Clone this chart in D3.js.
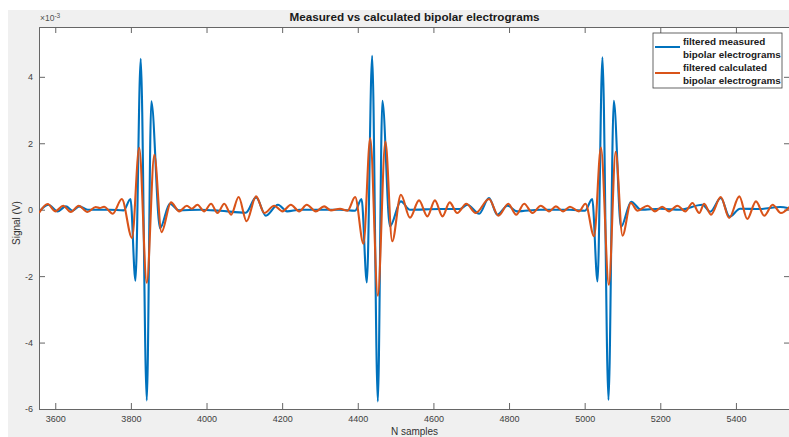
<!DOCTYPE html>
<html>
<head>
<meta charset="utf-8">
<script src="https://cdn.jsdelivr.net/npm/d3@7/dist/d3.min.js"></script>
<style>
  body { margin: 0; background: #ffffff; }
  svg { display: block; }
</style>
</head>
<body>
<svg id="chart" width="789" height="437"></svg>
<script>
// Extrema of the filtered measured bipolar electrogram (sample index, signal in 1e-3 V)
const measuredSamples = [3557, 3582, 3606, 3628, 3646, 3663, 3686, 3744, 3781, 3799, 3812, 3826, 3842, 3854, 3877, 3903, 3927, 3983, 4035, 4104, 4131, 4157, 4189, 4213, 4247, 4300, 4353, 4393, 4410, 4424, 4438, 4453, 4465, 4485, 4514, 4538, 4617, 4670, 4690, 4721, 4747, 4769, 4796, 4821, 4882, 4961, 5001, 5020, 5034, 5047, 5063, 5077, 5096, 5123, 5149, 5200, 5252, 5311, 5332, 5360, 5383, 5411, 5464, 5517, 5543];
const measuredSignal  = [-0.06, 0.15, -0.05, 0.10, -0.03, 0.10, 0, 0, -0.02, 0.32, -2.14, 4.54, -5.74, 3.26, -0.56, 0.18, -0.02, 0, -0.03, -0.09, 0.37, -0.18, 0.15, -0.05, 0, 0, 0, -0.03, 0.32, -2.19, 4.63, -5.77, 3.28, -0.50, 0.25, 0, 0.02, 0.02, 0.15, -0.12, 0.35, -0.15, 0.12, -0.05, 0, 0, -0.03, 0.32, -2.16, 4.59, -5.73, 3.28, -0.52, 0.24, 0, 0.03, 0, 0.15, -0.06, 0.35, -0.21, 0.03, 0.02, 0.08, 0.03];

// Extrema of the filtered calculated bipolar electrogram
const calculatedSamples = [3557, 3580, 3600, 3621, 3641, 3662, 3685, 3707, 3718, 3729, 3752, 3776, 3803, 3822, 3842, 3862, 3881, 3906, 3928, 3948, 3961, 3976, 3994, 4012, 4029, 4047, 4065, 4085, 4106, 4131, 4153, 4179, 4201, 4223, 4245, 4265, 4289, 4311, 4329, 4353, 4373, 4393, 4415, 4433, 4453, 4473, 4491, 4514, 4538, 4562, 4584, 4604, 4624, 4643, 4663, 4687, 4712, 4747, 4772, 4798, 4819, 4840, 4862, 4884, 4906, 4924, 4943, 4961, 4985, 5002, 5025, 5043, 5064, 5082, 5100, 5122, 5140, 5166, 5186, 5205, 5223, 5245, 5266, 5285, 5303, 5316, 5334, 5360, 5382, 5409, 5430, 5453, 5475, 5497, 5519, 5543];
const calculatedSignal  = [-0.10, 0.17, -0.05, 0.12, -0.07, 0.12, -0.07, 0.08, 0.05, 0.09, -0.12, 0.32, -0.85, 1.86, -2.20, 1.65, -0.68, 0.22, -0.05, 0.12, 0.03, 0.15, -0.05, 0.18, -0.10, 0.18, -0.15, 0.38, -0.35, 0.40, -0.10, 0.12, -0.05, 0.15, -0.05, 0.15, -0.05, 0.10, -0.02, 0.03, -0.03, 0.38, -1.02, 2.16, -2.59, 2.05, -0.95, 0.45, -0.24, 0.28, -0.20, 0.28, -0.20, 0.22, -0.10, 0.18, -0.10, 0.32, -0.18, 0.18, -0.15, 0.18, -0.10, 0.12, -0.05, 0.10, -0.05, 0.09, -0.05, 0.18, -0.80, 1.87, -2.26, 1.74, -0.78, 0.20, -0.03, 0.12, -0.05, 0.09, -0.05, 0.12, -0.05, 0.20, -0.10, 0.18, -0.15, 0.38, -0.25, 0.40, -0.28, 0.25, -0.18, 0.15, -0.10, 0.10];

const xTicks = [3600, 3800, 4000, 4200, 4400, 4600, 4800, 5000, 5200, 5400];
const yTicks = [-6, -4, -2, 0, 2, 4];
const xDomain = [3557, 5543];
const yDomain = [-6, 5.5];

const seriesNames = ["filtered measured|bipolar electrograms", "filtered calculated|bipolar electrograms"];
const seriesColors = ["#0072BD", "#D95319"];

const svg = d3.select("#chart");
const W = 789, H = 437;
const plot = { left: 39, top: 27, right: 790, bottom: 409 };
const font = "'Liberation Sans', Arial, Helvetica, sans-serif";
const axisColor = "#666666";

// figure background and axes area
svg.append("rect").attr("x", 8).attr("y", 10).attr("width", W - 8).attr("height", H - 10).attr("fill", "#f0f0f0");
svg.append("rect").attr("x", plot.left).attr("y", plot.top)
  .attr("width", plot.right - plot.left).attr("height", plot.bottom - plot.top).attr("fill", "#ffffff");

const x = d3.scaleLinear().domain(xDomain).range([plot.left, plot.right]);
const y = d3.scaleLinear().domain(yDomain).range([plot.bottom, plot.top]);

svg.append("defs").append("clipPath").attr("id", "plotClip")
  .append("rect").attr("x", plot.left).attr("y", plot.top)
  .attr("width", plot.right - plot.left).attr("height", plot.bottom - plot.top);

const tickLen = 6;

// bottom axis with inward ticks
const xAxis = svg.append("g").attr("transform", `translate(0,${plot.bottom})`)
  .call(d3.axisBottom(x).tickValues(xTicks).tickSize(-tickLen).tickPadding(7).tickFormat(d3.format("d")));
// top axis ticks (no labels)
const xAxisTop = svg.append("g").attr("transform", `translate(0,${plot.top})`)
  .call(d3.axisTop(x).tickValues(xTicks).tickSize(-tickLen).tickFormat(""));
// left axis
const yAxis = svg.append("g").attr("transform", `translate(${plot.left},0)`)
  .call(d3.axisLeft(y).tickValues(yTicks).tickSize(-tickLen).tickPadding(6).tickFormat(d => d3.format("d")(d).replace("\u2212", "-")));
// right axis ticks
const yAxisRight = svg.append("g").attr("transform", `translate(${plot.right},0)`)
  .call(d3.axisRight(y).tickValues(yTicks).tickSize(-tickLen).tickFormat(""));

[xAxis, xAxisTop, yAxis, yAxisRight].forEach(g => {
  g.select(".domain").attr("stroke", axisColor).attr("stroke-width", 1);
  g.selectAll(".tick line").attr("stroke", axisColor).attr("stroke-width", 1);
  g.selectAll(".tick text").attr("fill", "#404040").attr("font-family", font).attr("font-size", 9);
});
xAxis.selectAll(".tick text").attr("dy", "0.71em");

// series lines
const line = d3.line().x(d => x(d[0])).y(d => y(d[1])).curve(d3.curveMonotoneX);
const measured = measuredSamples.map((n, i) => [n, measuredSignal[i]]);
const calculated = calculatedSamples.map((n, i) => [n, calculatedSignal[i]]);

const lines = svg.append("g").attr("clip-path", "url(#plotClip)");
[measured, calculated].forEach((data, i) => {
  lines.append("path").datum(data)
    .attr("fill", "none").attr("stroke", seriesColors[i])
    .attr("stroke-width", 2.1).attr("stroke-linejoin", "round")
    .attr("d", line);
});

// exponent label
const expo = svg.append("text").attr("x", plot.left + 1).attr("y", plot.top - 6)
  .attr("font-family", font).attr("font-size", 8.5).attr("fill", "#505050");
expo.append("tspan").text("\u00d710");
expo.append("tspan").attr("dy", -3).attr("font-size", 6.5).text("-3");

// title
svg.append("text").attr("x", (plot.left + plot.right) / 2).attr("y", 21)
  .attr("text-anchor", "middle").attr("font-family", font).attr("font-weight", "bold")
  .attr("font-size", 11.7).attr("fill", "#1a1a1a")
  .text("Measured vs calculated bipolar electrograms");

// axis labels
svg.append("text").attr("x", (plot.left + plot.right) / 2).attr("y", 435)
  .attr("text-anchor", "middle").attr("font-family", font).attr("font-size", 10).attr("fill", "#303030")
  .text("N samples");
svg.append("text").attr("transform", `translate(20,${(plot.top + plot.bottom) / 2 + 5}) rotate(-90)`)
  .attr("text-anchor", "middle").attr("font-family", font).attr("font-size", 10).attr("fill", "#303030")
  .text("Signal (V)");

// legend
const lg = svg.append("g").attr("transform", "translate(653,33)");
lg.append("rect").attr("width", 129).attr("height", 55).attr("fill", "#ffffff")
  .attr("stroke", "#404040").attr("stroke-width", 0.8);
seriesNames.forEach((name, i) => {
  const parts = name.split("|");
  const y0 = 12 + i * 26;
  lg.append("line").attr("x1", 2).attr("x2", 27).attr("y1", y0 + 2).attr("y2", y0 + 2)
    .attr("stroke", seriesColors[i]).attr("stroke-width", 2);
  parts.forEach((p, j) => {
    lg.append("text").attr("x", 30).attr("y", y0 + j * 13)
      .attr("font-family", font).attr("font-weight", "bold").attr("font-size", 9.9)
      .attr("fill", "#202020").text(p);
  });
});
</script>
</body>
</html>
